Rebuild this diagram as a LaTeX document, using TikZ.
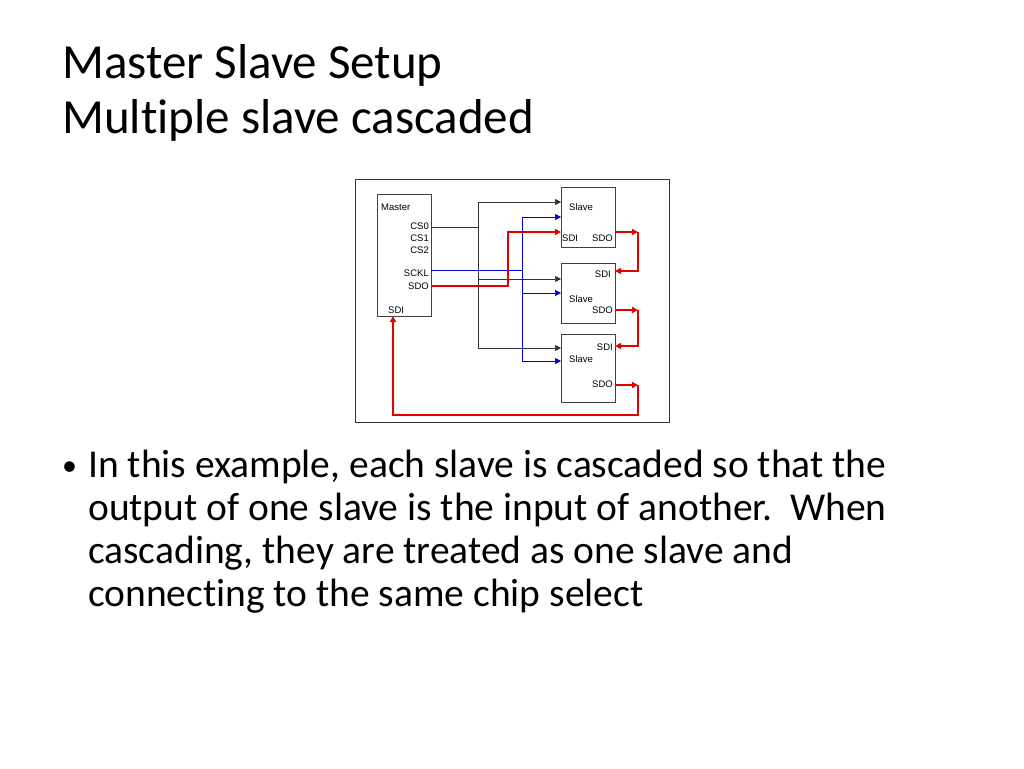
\documentclass[tikz,border=0pt]{standalone}
\usepackage{fontspec}
\usetikzlibrary{arrows.meta}
\setmainfont[Ligatures=NoCommon]{Carlito}
\newfontfamily\diag{Liberation Sans}
\begin{document}
\begin{tikzpicture}[x=1pt,y=-1pt,
  box/.style={draw=black!75,line width=0.8pt},
  lbl/.style={font=\diag\fontsize{9.5}{10}\selectfont,inner sep=0pt},
  blk/.style={black!80,line width=0.7pt},
  blu/.style={blue!85!black,line width=0.7pt},
  rd/.style={red!90!black,line width=1.5pt},
  ttl/.style={anchor=base west,inner sep=0pt,font=\fontsize{49}{55}\selectfont},
  txt/.style={anchor=base west,inner sep=0pt,font=\fontsize{39.5}{43}\selectfont},
  tip/.style={-{Triangle[length=6pt,width=6pt]}}]
\useasboundingbox (0,0) rectangle (1024,768);
\node[ttl] (t1) at (62,78) {Master Slave Setup};
\node[ttl] (t2) at (62,133) {Multiple slave cascaded};
\draw[black!80] (355,179) rectangle (669,422);
\node[box,minimum width=54pt,minimum height=122pt,anchor=north west] (m) at (377,194) {};
\node[box,minimum width=54pt,minimum height=60pt,anchor=north west] (s1) at (561,187) {};
\node[box,minimum width=54pt,minimum height=60pt,anchor=north west] (s2) at (561,263) {};
\node[box,minimum width=54pt,minimum height=68pt,anchor=north west] (s3) at (561,334) {};
\node[lbl,anchor=west] at (381,207) {Master};
\node[lbl,anchor=east] at (429,226) {CS0};
\node[lbl,anchor=east] at (429,238) {CS1};
\node[lbl,anchor=east] at (429,250) {CS2};
\node[lbl,anchor=east] at (429,273) {SCKL};
\node[lbl,anchor=east] at (429,286) {SDO};
\node[lbl,anchor=west] at (388,310) {SDI};
\node[lbl,anchor=west] at (569,207) {Slave};
\node[lbl,anchor=west] at (562,238) {SDI};
\node[lbl,anchor=east] at (613,238) {SDO};
\node[lbl,anchor=east] at (611,274) {SDI};
\node[lbl,anchor=west] at (569,299) {Slave};
\node[lbl,anchor=east] at (613,310) {SDO};
\node[lbl,anchor=east] at (613,347) {SDI};
\node[lbl,anchor=west] at (569,359) {Slave};
\node[lbl,anchor=east] at (613,384) {SDO};
% black CS bus
\draw[blk] (431,227) -- (478,227);
\draw[blk] (478,202) -- (478,348);
\draw[blk,tip] (478,202) -- (561,202);
\draw[blk,tip] (478,279) -- (561,279);
\draw[blk,tip] (478,348) -- (561,348);
% blue clock
\draw[blu] (431,270) -- (522,270);
\draw[blu] (522,217) -- (522,361);
\draw[blu,tip] (522,217) -- (561,217);
\draw[blu,tip] (522,293) -- (561,293);
\draw[blu,tip] (522,361) -- (561,361);
% red data
\draw[rd,tip] (431,286) -- (508,286) -- (508,232) -- (561,232);
\draw[rd,tip] (615,232) -- (638,232);
\draw[rd,tip] (638,232) -- (638,271) -- (615,271);
\draw[rd,tip] (615,310) -- (638,310);
\draw[rd,tip] (638,310) -- (638,346) -- (615,346);
\draw[rd,tip] (615,385) -- (638,385);
\draw[rd,tip] (638,385) -- (638,415) -- (393,415) -- (393,316);
% body text
\node[anchor=base west,inner sep=0pt,font=\fontsize{30}{30}\selectfont] (b) at (62,475) {\textbullet};
\node[txt] (l1) at (88,477) {In this example, each slave is cascaded so that the};
\node[txt] (l2) at (88,520) {output of one slave is the input of another.\ \ When};
\node[txt] (l3) at (88,563) {cascading, they are treated as one slave and};
\node[txt] (l4) at (88,606) {connecting to the same chip select};
\end{tikzpicture}
\end{document}
